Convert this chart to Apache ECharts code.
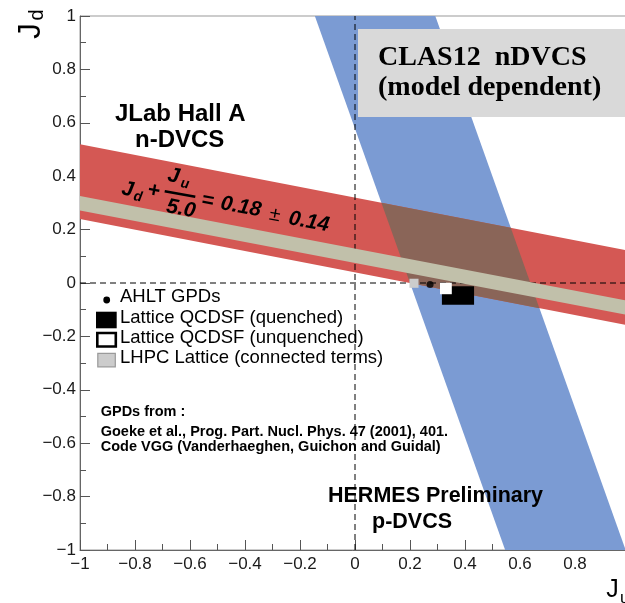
<!DOCTYPE html>
<html><head><meta charset="utf-8">
<script src="https://cdn.jsdelivr.net/npm/echarts@6/dist/echarts.min.js"></script>
<style>html,body{margin:0;padding:0;background:#fff}#c{width:625px;height:603px}</style>
</head><body><div id="c"></div>
<script>
// ---- data ----
const hallABand = [[-1, 0.52], [1, 0.12], [1, -0.16], [-1, 0.24]];       // Jd + Ju/5 = 0.18 ± 0.14
const hermesBand = [[-0.146, 1], [0.292, 1], [0.984, -1], [0.546, -1]];   // HERMES p-DVCS
const lhpcBand = [[-1, 0.326], [1, -0.068], [1, -0.122], [-1, 0.272]];    // CLAS12 nDVCS projection
const quenchedBox = [[0.316, 0.433, -0.081, -0.012]];
const unquenchedBox = [[0.309, 0.352, -0.042, 0.001]];
const lhpcBox = [[0.198, 0.231, -0.018, 0.016]];
const ahltPoints = [[0.273, -0.006]];
const refLines = [[-1, 0, 1, 0], [0, -1, 0, 1]];
const axisMin = -1, axisMax = 1, axisStep = 0.2;
const legendLabels = ['AHLT GPDs', 'Lattice QCDSF (quenched)', 'Lattice QCDSF (unquenched)', 'LHPC Lattice (connected terms)'];

// ---- helpers ----
function polyArea(p) { let s = 0; for (let i = 0; i < p.length; i++) { const a = p[i], b = p[(i + 1) % p.length]; s += a[0] * b[1] - b[0] * a[1]; } return s; }
function clipPoly(subject, clip) {
  const orient = Math.sign(polyArea(clip));
  let out = subject.slice();
  for (let i = 0; i < clip.length; i++) {
    const a = clip[i], b = clip[(i + 1) % clip.length];
    const side = p => orient * ((b[0] - a[0]) * (p[1] - a[1]) - (b[1] - a[1]) * (p[0] - a[0]));
    const inp = out; out = [];
    for (let j = 0; j < inp.length; j++) {
      const p = inp[j], q = inp[(j + 1) % inp.length];
      const sp = side(p), sq = side(q);
      if (sp >= 0) out.push(p);
      if ((sp >= 0) !== (sq >= 0)) { const t = sp / (sp - sq); out.push([p[0] + t * (q[0] - p[0]), p[1] + t * (q[1] - p[1])]); }
    }
  }
  return out;
}
const overlapBand = clipPoly(hallABand, hermesBand);

function bandSeries(name, pts, color, z) {
  return {
    type: 'custom', name, z, clip: true, silent: true, data: pts, encode: { x: 0, y: 1 },
    renderItem: (params, api) => params.dataIndex === 0 ? {
      type: 'polygon', shape: { points: pts.map(p => api.coord(p)) }, style: { fill: color }
    } : null
  };
}
function boxSeries(name, data, fill, z) {
  return {
    type: 'custom', name, z, silent: true, data, encode: { x: [0, 1], y: [2, 3] },
    renderItem: (params, api) => {
      const a = api.coord([api.value(0), api.value(3)]);
      const b = api.coord([api.value(1), api.value(2)]);
      return { type: 'rect', shape: { x: a[0], y: a[1], width: b[0] - a[0], height: b[1] - a[1] }, style: { fill } };
    }
  };
}
const fmt = v => (Math.abs(v) < 1e-9 ? '0' : String(+v.toFixed(1)).replace('-', '\u2212'));
const SANS = 'Liberation Sans';
function txt(text, x, y, size, opts = {}) {
  return Object.assign({
    type: 'text', x, y, z: 100, silent: true,
    style: {
      text, fontFamily: opts.family || SANS, fontSize: size, fontWeight: opts.weight || 'normal',
      fontStyle: opts.style || 'normal', fill: opts.fill || '#000', align: opts.align || 'left', verticalAlign: 'middle'
    }
  }, opts.rotation !== undefined ? { rotation: opts.rotation } : {});
}

const chart = echarts.init(document.getElementById('c'), null, { renderer: 'canvas' });
const axisCommon = {
  type: 'value', min: axisMin, max: axisMax, interval: axisStep,
  axisLine: { show: true, onZero: false, lineStyle: { color: '#666', width: 1 } },
  axisTick: { show: true, inside: true, length: 10, lineStyle: { color: '#555' } },
  minorTick: { show: true, splitNumber: 2, length: 6, lineStyle: { color: '#555' } },
  splitLine: { show: false },
  axisLabel: { formatter: fmt, fontFamily: SANS, fontSize: 17, color: '#1a1a1a', showMinLabel: true, showMaxLabel: true }
};
const rot = -0.18;
const option = {
  animation: false,
  grid: { left: 80, top: 16, width: 550, height: 534, containLabel: false, outerBoundsMode: 'none',
          show: true, borderColor: '#999', borderWidth: 1, backgroundColor: 'transparent' },
  xAxis: Object.assign({}, axisCommon, { axisLabel: Object.assign({}, axisCommon.axisLabel, { margin: 6 }) }),
  yAxis: Object.assign({}, axisCommon, { axisLabel: Object.assign({}, axisCommon.axisLabel, { margin: 4 }) }),
  series: [
    bandSeries('HERMES', hermesBand, '#7b9bd3', 1),
    bandSeries('Hall A', hallABand, '#d45854', 2),
    bandSeries('overlap', overlapBand, '#8a6558', 3),
    {
      type: 'custom', name: 'ref', z: 4, silent: true, data: refLines, encode: { x: [0, 2], y: [1, 3] },
      renderItem: (params, api) => {
        const a = api.coord([api.value(0), api.value(1)]), b = api.coord([api.value(2), api.value(3)]);
        return { type: 'line', shape: { x1: a[0], y1: a[1], x2: b[0], y2: b[1] }, style: { stroke: '#000', lineWidth: 1, lineDash: [6, 4] } };
      }
    },
    bandSeries('CLAS12', lhpcBand, '#c1c0aa', 5),
    boxSeries('quenched', quenchedBox, '#000', 6),
    boxSeries('unquenched', unquenchedBox, '#fff', 7),
    boxSeries('LHPC', lhpcBox, '#cccccc', 7),
    { type: 'scatter', name: 'AHLT', z: 8, silent: true, data: ahltPoints, symbol: 'circle', symbolSize: 7, itemStyle: { color: '#000' } }
  ],
  graphic: [
    // axis titles
    txt('J', 31.5, 31, 32, { align: 'center', rotation: Math.PI / 2 }),
    txt('d', 37, 15, 20, { align: 'center', rotation: Math.PI / 2 }),
    txt('J', 612.5, 590, 25, { align: 'center' }),
    txt('u', 620, 598, 17),
    // CLAS12 box
    { type: 'rect', z: 99, silent: true, shape: { x: 358, y: 29, width: 270, height: 88 }, style: { fill: '#d9d9d9' } },
    txt('CLAS12  nDVCS', 378, 57.5, 28, { family: 'Liberation Serif', weight: 'bold' }),
    txt('(model dependent)', 378, 88, 28, { family: 'Liberation Serif', weight: 'bold' }),
    // experiment labels
    txt('JLab Hall A', 115, 114.5, 24, { weight: 'bold' }),
    txt('n-DVCS', 135, 140.5, 24, { weight: 'bold' }),
    txt('HERMES Preliminary', 328, 496.5, 21.5, { weight: 'bold' }),
    txt('p-DVCS', 372, 522, 21.5, { weight: 'bold' }),
    // formula along the band
    txt('J', 127.5, 189.5, 21, { weight: 'bold', style: 'italic', align: 'center', rotation: rot }),
    txt('d', 138, 197, 14, { weight: 'bold', style: 'italic', align: 'center', rotation: rot }),
    txt('+', 153.5, 191, 21, { weight: 'bold', style: 'italic', align: 'center', rotation: rot }),
    txt('J', 173.5, 176, 21, { weight: 'bold', style: 'italic', align: 'center', rotation: rot }),
    txt('u', 185, 184, 14, { weight: 'bold', style: 'italic', align: 'center', rotation: rot }),
    { type: 'line', z: 100, silent: true, shape: { x1: 164.7, y1: 191.2, x2: 195.3, y2: 196.8 }, style: { stroke: '#000', lineWidth: 2.5 } },
    txt('5.0', 181, 209, 21, { weight: 'bold', style: 'italic', align: 'center', rotation: rot }),
    txt('=', 207.5, 201, 21, { weight: 'bold', style: 'italic', align: 'center', rotation: rot }),
    txt('0.18', 241, 207, 21, { weight: 'bold', style: 'italic', align: 'center', rotation: rot }),
    txt('\u00b1', 275, 215, 20, { style: 'italic', align: 'center', rotation: rot }),
    txt('0.14', 309, 222, 21, { weight: 'bold', style: 'italic', align: 'center', rotation: rot }),
    // legend
    { type: 'circle', z: 100, silent: true, shape: { cx: 106.7, cy: 300, r: 3.4 }, style: { fill: '#000' } },
    { type: 'rect', z: 100, silent: true, shape: { x: 96, y: 311.7, width: 20.7, height: 16.6 }, style: { fill: '#000' } },
    { type: 'rect', z: 100, silent: true, shape: { x: 97.3, y: 333, width: 18.5, height: 13.5 }, style: { fill: '#fff', stroke: '#000', lineWidth: 2.6 } },
    { type: 'rect', z: 100, silent: true, shape: { x: 97.8, y: 353.3, width: 17.5, height: 13.5 }, style: { fill: '#cccccc', stroke: '#9a9a9a', lineWidth: 1.2 } },
    txt(legendLabels[0], 120, 296.5, 18.5),
    txt(legendLabels[1], 120, 317.5, 18.5),
    txt(legendLabels[2], 120, 337.5, 18.5),
    txt(legendLabels[3], 120, 357.5, 18.5),
    txt('GPDs from :', 100.7, 411.7, 14.5, { weight: 'bold' }),
    txt('Goeke et al., Prog. Part. Nucl. Phys. 47 (2001), 401.', 100.7, 431.7, 14.5, { weight: 'bold' }),
    txt('Code VGG (Vanderhaeghen, Guichon and Guidal)', 100.7, 446.7, 14.5, { weight: 'bold' })
  ]
};
chart.setOption(option);
</script></body></html>
